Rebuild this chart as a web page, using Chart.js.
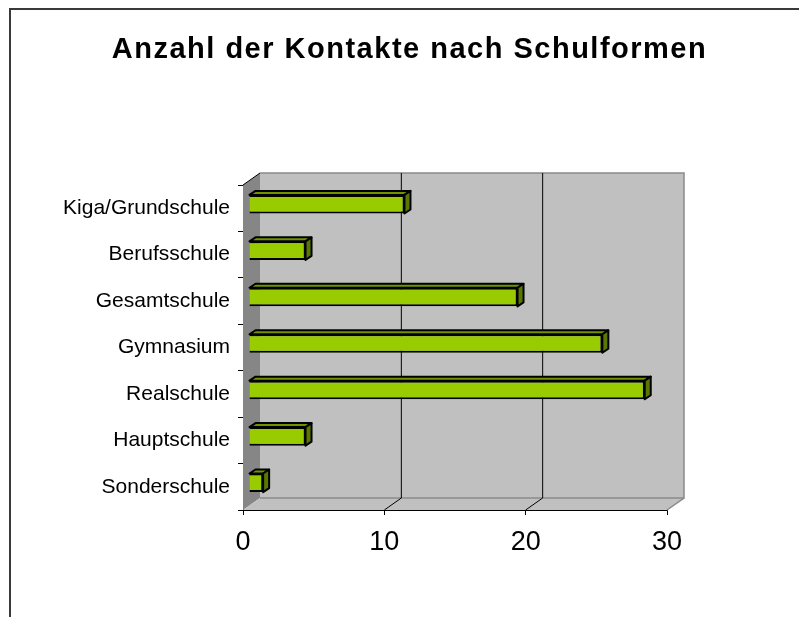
<!DOCTYPE html>
<html>
<head>
<meta charset="utf-8">
<script src="https://cdn.jsdelivr.net/npm/chart.js@4.4.1/dist/chart.umd.min.js"></script>
<style>
    html, body { margin: 0; padding: 0; background: #fff; }
    #wrap { position: relative; width: 799px; height: 617px; overflow: hidden; }
    #frame { position: absolute; left: 9px; top: 8px; width: 900px; height: 700px;
             border-top: 2px solid #3a3a3a; border-left: 2px solid #3a3a3a; }
    #chart { position: absolute; left: 0; top: 0; }
</style>
</head>
<body>
<div id="wrap">
    <div id="frame"></div>
    <canvas id="chart" width="799" height="617"></canvas>
</div>
<script>
const schulformen = ['Kiga/Grundschule', 'Berufsschule', 'Gesamtschule', 'Gymnasium', 'Realschule', 'Hauptschule', 'Sonderschule'];
const kontakte = [11, 4, 19, 25, 28, 4, 1];
const xTicks = [0, 10, 20, 30];

const FONT = "'Liberation Sans', Arial, sans-serif";
const wallDepth = { dx: 17, dy: -12 };
const barShift = { dx: 6, dy: -4 };

const poly = (ctx, pts, fill, stroke, lw) => {
    ctx.beginPath();
    pts.forEach(([px, py], i) => i ? ctx.lineTo(px, py) : ctx.moveTo(px, py));
    ctx.closePath();
    if (fill) { ctx.fillStyle = fill; ctx.fill(); }
    if (stroke) { ctx.strokeStyle = stroke; ctx.lineWidth = lw || 1; ctx.stroke(); }
};

// back wall, left wall, floor and the bars' top/side faces
const pseudo3d = {
    id: 'pseudo3d',
    beforeDatasetsDraw(chart) {
        const { ctx, chartArea: a, scales: { x } } = chart;
        const { dx, dy } = wallDepth;
        ctx.save();
        poly(ctx, [[a.left + dx, a.top + dy], [a.right + dx, a.top + dy], [a.right + dx, a.bottom + dy], [a.left + dx, a.bottom + dy]], '#c0c0c0');
        poly(ctx, [[a.left, a.top], [a.left + dx, a.top + dy], [a.left + dx, a.bottom + dy], [a.left, a.bottom]], '#868686');
        poly(ctx, [[a.left, a.bottom], [a.left + dx, a.bottom + dy], [a.right + dx, a.bottom + dy], [a.right, a.bottom]], '#c0c0c0');

        ctx.lineWidth = 1.5;
        ctx.strokeStyle = '#8a8a8a';
        ctx.beginPath();
        ctx.moveTo(a.left + dx, a.top + dy);
        ctx.lineTo(a.right + dx, a.top + dy);
        ctx.lineTo(a.right + dx, a.bottom + dy);
        ctx.lineTo(a.right, a.bottom);
        ctx.moveTo(a.left + dx, a.bottom + dy);
        ctx.lineTo(a.right + dx, a.bottom + dy);
        ctx.stroke();

        ctx.lineWidth = 1;
        ctx.strokeStyle = '#000';
        ctx.beginPath();
        xTicks.slice(1, -1).forEach(v => {
            const px = x.getPixelForValue(v);
            ctx.moveTo(px + dx, a.top + dy);
            ctx.lineTo(px + dx, a.bottom + dy);
            ctx.moveTo(px, a.bottom);
            ctx.lineTo(px + dx, a.bottom + dy);
        });
        ctx.moveTo(a.left, a.top);
        ctx.lineTo(a.left + dx, a.top + dy);
        ctx.stroke();
        ctx.restore();

        ctx.save();
        ctx.translate(barShift.dx, barShift.dy);
    },
    afterDatasetsDraw(chart) {
        const { ctx } = chart;
        const { dx, dy } = barShift;
        chart.getDatasetMeta(0).data.forEach(bar => {
            const { x, y, base, height } = bar.getProps(['x', 'y', 'base', 'height'], true);
            const top = y - height / 2, bottom = y + height / 2;
            ctx.lineJoin = 'round';
            poly(ctx, [[base, top], [x, top], [x + dx, top + dy], [base + dx, top + dy]], '#6f9400', '#000', 2);
            poly(ctx, [[x, top], [x + dx, top + dy], [x + dx, bottom + dy], [x, bottom]], '#5a7800', '#000', 2);
        });
        ctx.restore();
    }
};

const chart = new Chart(document.getElementById('chart'), {
    type: 'bar',
    data: {
        labels: schulformen,
        datasets: [{
            data: kontakte,
            backgroundColor: '#99cc00',
            borderColor: '#000',
            borderWidth: 2,
            barPercentage: 0.4,
            categoryPercentage: 1
        }]
    },
    options: {
        indexAxis: 'y',
        responsive: false,
        animation: false,
        layout: { padding: { left: 0, right: 132, top: 0, bottom: 0 } },
        plugins: {
            legend: { display: false },
            tooltip: { enabled: false },
            title: {
                display: true,
                text: 'Anzahl der Kontakte nach Schulformen',
                color: '#000',
                font: { family: FONT, size: 29, weight: 'bold' },
                padding: { top: 32.5, bottom: 117.7 }
            }
        },
        scales: {
            x: {
                min: xTicks[0],
                max: xTicks[xTicks.length - 1],
                ticks: { stepSize: xTicks[1] - xTicks[0], color: '#000', padding: 11, font: { family: FONT, size: 27 } },
                grid: { drawOnChartArea: false, tickLength: 5, color: '#000' },
                border: { color: '#000', width: 1 },
                afterFit: s => { s.height = 107; }
            },
            y: {
                ticks: { color: '#000', padding: 8, font: { family: FONT, size: 21 } },
                grid: { drawOnChartArea: false, tickLength: 5, color: '#000', offset: true },
                border: { color: '#000', width: 1 },
                afterFit: s => { s.width = 243; }
            }
        }
    },
    plugins: [pseudo3d]
});

// Excel-style title: slightly spaced and centred on the whole chart object
const titleBox = chart.titleBlock;
const drawTitle = titleBox.draw.bind(titleBox);
titleBox.draw = () => {
    const ctx = chart.ctx;
    ctx.save();
    ctx.letterSpacing = '1.5px';
    ctx.translate(chart.width / 2 + 10 - (titleBox.left + titleBox.right) / 2, 0);
    drawTitle();
    ctx.restore();
};
chart.draw();
</script>
</body>
</html>
